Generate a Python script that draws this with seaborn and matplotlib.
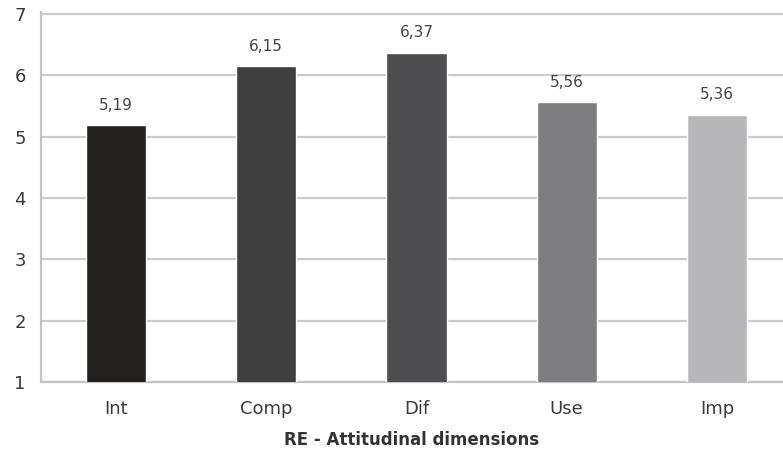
import matplotlib
matplotlib.use("Agg")
import matplotlib.pyplot as plt
import seaborn as sns
import pandas as pd

categories = ["Int", "Comp", "Dif", "Use", "Imp"]
values = [5.19, 6.15, 6.37, 5.56, 5.36]
bar_colors = ["#231f20", "#3f3f40", "#4e4e50", "#7e7e81", "#b8b8bb"]
y_ticks = [1, 2, 3, 4, 5, 6, 7]

sns.set_theme(style="white")
plt.rcParams["font.family"] = ["DejaVu Sans"]

df = pd.DataFrame({"dimension": categories, "score": values})

fig = plt.figure(figsize=(7.83, 4.57), dpi=100)
# axes span: y=1 at 382 px, y=7.03 at about 12 px from the top
ax = fig.add_axes([41 / 783, 1 - 382 / 457, (783 - 41) / 783, (382 - 12.2) / 457])

sns.barplot(data=df, x="dimension", y="score", hue="dimension",
            palette=bar_colors, width=0.4, legend=False, ax=ax,
            bottom=0, zorder=3)

ax.set_ylim(1, 7.03)
ax.set_xlim(-0.5, 4.44)
ax.set_yticks(y_ticks)
ax.yaxis.grid(True, color="#cbcbcb", linewidth=1.6, zorder=0)
ax.set_axisbelow(True)

for s in ["top", "right"]:
    ax.spines[s].set_visible(False)
for s in ["left", "bottom"]:
    ax.spines[s].set_color("#c4c4c4")
    ax.spines[s].set_linewidth(1.6)

ax.tick_params(axis="both", length=0, colors="#3a3a3a", labelsize=13)
ax.tick_params(axis="x", pad=13)
ax.tick_params(axis="y", pad=11)

for i, v in enumerate(values):
    ax.text(i, v + 0.2, f"{v:.2f}".replace(".", ","), ha="center", va="bottom",
            fontsize=11, color="#444444")

ax.set_ylabel("")
ax.set_xlabel("RE - Attitudinal dimensions", fontsize=12, fontweight="bold",
              color="#333333", labelpad=9)

fig.savefig("out.png", dpi=100)
